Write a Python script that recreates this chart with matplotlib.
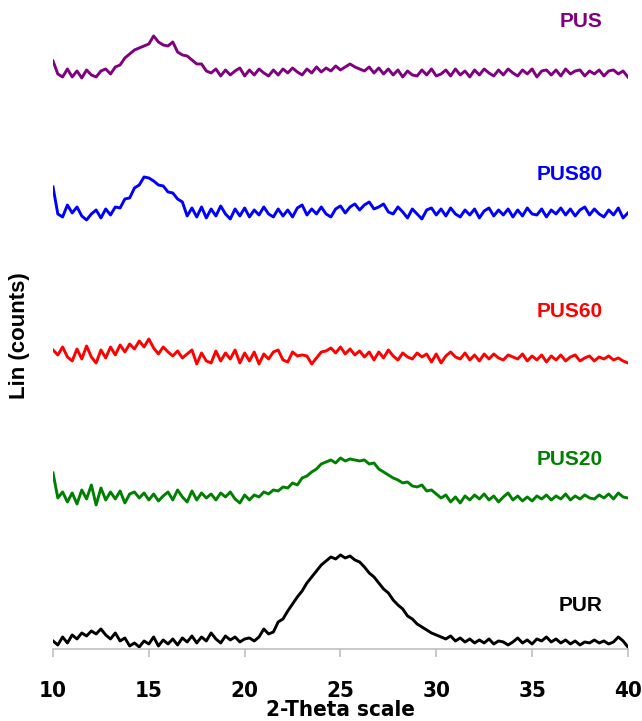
import matplotlib
matplotlib.use("Agg")
import matplotlib.pyplot as plt
import numpy as np

# 2-theta grid, 0.25 deg steps
two_theta = np.arange(10, 40.001, 0.25)

names = ['PUR', 'PUS20', 'PUS60', 'PUS80', 'PUS']
colors = ['black', '#008000', '#ff0000', '#0000ff', '#800080']

pur = [8, 4, 12, 6, 14, 10, 16, 13, 18,
       15, 20, 14, 10, 16, 8, 11, 3,
       6, 2, 8, 5, 12, 3, 9, 5,
       10, 4, 11, 7, 13, 6, 12, 8,
       16, 10, 6, 13, 9, 12, 7, 10,
       11, 8, 12, 20, 15, 17, 27, 30,
       38, 45, 52, 58, 66, 72, 78, 84,
       88, 92, 90, 94, 91, 93, 89, 87,
       82, 76, 72, 66, 60, 56, 49, 44,
       40, 33, 30, 25, 22, 19, 16, 14,
       12, 10, 13, 8, 11, 7, 10, 6,
       9, 6, 10, 5, 8, 7, 4, 7,
       11, 6, 9, 5, 10, 8, 12, 7,
       10, 6, 9, 5, 8, 4, 7, 6,
       9, 6, 8, 5, 7, 12, 8, 2]

pus20 = [27, 2, 8, -2, 7, -4, 10, 1, 15,
         -5, 12, 0, 8, 1, 9, -3, 6,
         8, 2, 7, 0, 6, -1, 4, 8,
         0, 10, 3, -2, 9, 0, 7, 2,
         6, 0, 7, 3, 8, 1, -3, 5,
         0, 5, 3, 8, 6, 10, 9, 13,
         12, 17, 15, 22, 24, 28, 31, 36,
         38, 40, 37, 42, 39, 41, 40, 39,
         40, 36, 37, 31, 28, 25, 22, 20,
         17, 18, 14, 13, 15, 9, 10, 6,
         2, 5, -2, 3, -3, 4, 0, 5,
         1, 6, 0, 4, -2, 3, 7, 0,
         4, -1, 3, -1, 4, 1, 5, 0,
         4, 1, 6, 0, 4, 1, 5, 2,
         1, 5, 2, 6, 1, 7, 3, 2]

pus60 = [5, 0, 8, -2, -6, 6, -4, 9, -2,
         -8, 5, -3, 8, 0, 10, 3, 11,
         6, 14, 8, 16, 7, 1, 8, 3,
         -1, 4, -3, 1, 5, -9, 2, -6,
         -8, 4, -6, 2, -4, 5, -8, 2,
         -6, 3, -9, 1, -4, 3, 5, -5,
         -7, 3, -1, 0, -1, -9, -3, 3,
         4, 7, 2, 8, 1, 6, 0, 4,
         -2, 3, -5, 3, -3, 5, -1, -5,
         2, -2, -4, 2, -2, 1, -7, 1,
         -8, -1, 3, -2, -4, 2, -5, 0,
         -6, 1, -4, 1, -3, -5, 0, -2,
         -4, 1, -6, -1, -5, 0, -7, -1,
         -5, 0, -6, -2, 0, -6, -3, -1,
         -6, -2, -4, -1, -5, -3, -6, -8]

pus80 = [25, -2, -5, 7, -1, 5, -4, -8, -2,
         2, -6, 3, -3, 5, 4, 13, 14,
         24, 27, 35, 34, 31, 27, 26, 20,
         19, 13, 10, -4, 4, -5, 5, -6,
         3, -4, 6, -2, -7, 3, -4, 4,
         -5, 2, -3, 5, -2, -5, 3, -4,
         2, -5, 4, 7, -3, 3, -2, 5,
         -2, -5, 3, 6, -1, 5, 8, 2,
         7, 10, 3, 5, 8, 0, -2, 5,
         0, -6, 3, -2, -7, 2, 4, -3,
         3, -4, 4, -2, -5, 2, -3, 3,
         -6, 1, 4, -4, 2, -3, 3, -5,
         2, -4, 4, -2, -3, 3, -5, 2,
         -2, 4, -3, 3, -4, 2, 5, -3,
         3, -2, -5, 2, -3, 4, -6, -1]

pus = [12, -1, -4, 4, -4, 2, -5, 3, -2,
       -4, 2, 4, -1, 6, 8, 15, 19,
       23, 25, 27, 29, 37, 31, 28, 27,
       31, 21, 18, 17, 13, 9, 9, 2,
       0, 4, -3, 3, -2, 2, 5, -3,
       3, -2, 4, 0, -3, 3, -2, 4,
       0, 5, 1, -2, 4, 0, 6, 1,
       5, 2, 7, 3, 6, 9, 6, 4,
       2, 6, 0, 5, -1, 4, -2, 3,
       -4, 2, -2, -3, 3, -2, 4, -3,
       -1, 3, -3, 4, -2, 2, -4, 3,
       -2, 4, 0, -3, 3, -2, 4, 0,
       -3, 3, -1, 4, -4, 2, 3, -2,
       3, -3, 4, -1, 2, 3, -3, 2,
       -1, 3, -3, 2, 3, -1, 2, -4]

series = [pur, pus20, pus60, pus80, pus]
offsets = [0, 149, 294, 437, 576]
label_y = [43, 189, 337, 474, 627]

fig = plt.figure(figsize=(6.42, 7.21), dpi=100)
ax = fig.add_axes([0.0826, 0.0999, 0.8954, 0.8724])

for ys, off, c, name, ly in zip(series, offsets, colors, names, label_y):
    ax.plot(two_theta, np.array(ys) + off, color=c, lw=2.1)
    ax.text(38.7, ly, name, color=c, fontsize=15, fontweight='bold',
            ha='right', va='center', family=['Liberation Sans', 'DejaVu Sans'])

ax.set_xlim(10, 40)
ax.set_ylim(0, 629)
ax.set_xticks(np.arange(10, 41, 5))
ax.set_yticks([])
for s in ['top', 'right', 'left']:
    ax.spines[s].set_visible(False)
ax.spines['bottom'].set_color('#c0c0c0')
ax.spines['bottom'].set_linewidth(1.2)
ax.tick_params(axis='x', colors='#c0c0c0', length=6, width=1.2, pad=17,
               labelcolor='black', labelsize=16)
for lab in ax.get_xticklabels():
    lab.set_fontweight('bold')
    lab.set_fontstretch('condensed')
    lab.set_family('DejaVu Sans')

ax.set_xlabel('2-Theta scale', fontsize=16, fontweight='bold', labelpad=-1,
              fontstretch='condensed', family='DejaVu Sans')
fig.text(0.03, 0.535, 'Lin (counts)', rotation=90, fontsize=16, fontweight='bold',
         ha='center', va='center', family=['Liberation Sans', 'DejaVu Sans'])

fig.savefig('out.png', dpi=100)
